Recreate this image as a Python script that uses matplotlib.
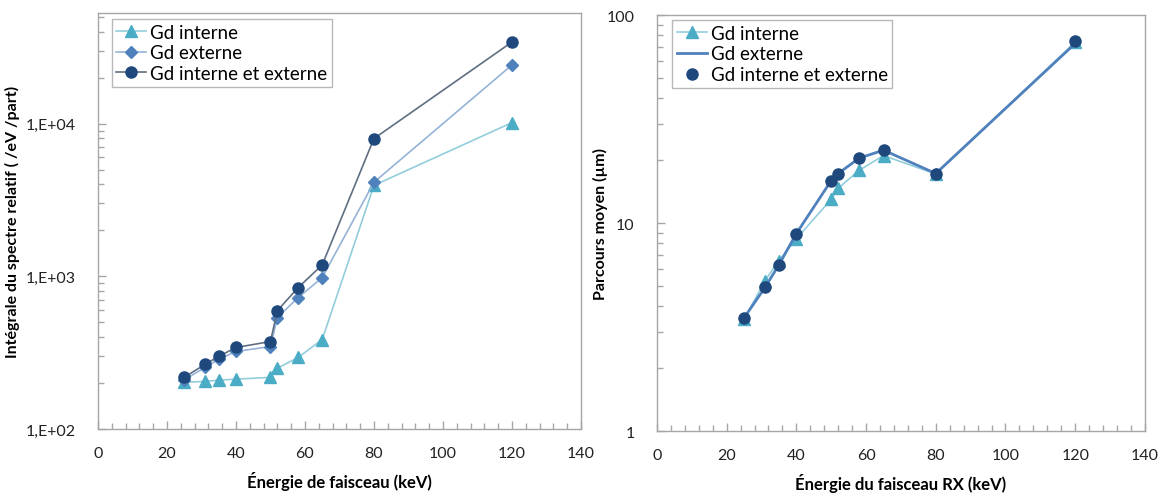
import math
import matplotlib.pyplot as plt
from matplotlib.ticker import FixedLocator, LogLocator, NullFormatter, FuncFormatter

plt.rcParams['font.family'] = ['Lato', 'DejaVu Sans']

# energies (keV)
energie = [25, 31, 35, 40, 50, 52, 58, 65, 80, 120]

# left: integrale du spectre relatif
int_interne = [202, 205, 209, 212, 218, 250, 294, 385, 3940, 10150]
int_externe = [210, 253, 286, 322, 347, 537, 725, 980, 4130, 24200]
int_both = [218, 265, 299, 342, 374, 596, 842, 1188, 7980, 34200]

# right: parcours moyen (um)
parc_interne = [3.45, 5.28, 6.6, 8.4, 13.0, 14.7, 17.9, 21.1, 17.2, 74]
parc_externe = [3.5, 4.9, 6.3, 8.9, 16.0, 17.3, 20.5, 22.4, 17.3, 73]
parc_both = [3.5, 4.9, 6.3, 8.9, 16.0, 17.3, 20.5, 22.4, 17.3, 75]

c_int = '#4BACC6'
c_ext = '#4F81BD'
c_both = '#1F497D'
grey = '#A6A6A6'

fig = plt.figure(figsize=(11.75, 5.02), dpi=100)
ax1 = fig.add_axes([0.0834, 0.1434, 0.411, 0.8287])
ax2 = fig.add_axes([0.5591, 0.1394, 0.4153, 0.8287])

def style(ax):
    for s in ax.spines.values():
        s.set_color(grey)
        s.set_linewidth(1.0)
    ax.set_xlim(0, 140)
    ax.xaxis.set_major_locator(FixedLocator(range(0, 141, 20)))
    ax.xaxis.set_minor_locator(FixedLocator(range(0, 141, 4)))
    ax.tick_params(which='both', direction='in', color=grey, labelsize=11.5,
                   labelcolor='#222222')
    ax.tick_params(which='major', length=6, width=1)
    ax.tick_params(which='minor', length=4, width=1)
    ax.tick_params(axis='x', which='major', pad=12)
    ax.tick_params(axis='y', which='major', pad=16)

# left panel
ax1.plot(energie, int_interne, color='#92CDDC', lw=1.2, marker='^', ms=8.5,
         mfc=c_int, mec=c_int, label='Gd interne')
ax1.plot(energie, int_externe, color='#95B3D7', lw=1.2, marker='D', ms=6,
         mfc=c_ext, mec=c_ext, label='Gd externe')
ax1.plot(energie, int_both, color='#5F6E82', lw=1.2, marker='o', ms=8,
         mfc=c_both, mec=c_both, label='Gd interne et externe')
ax1.set_yscale('log')
ax1.set_ylim(100, 5.3e4)
style(ax1)
ax1.yaxis.set_major_locator(FixedLocator([1e2, 1e3, 1e4]))
ax1.yaxis.set_minor_locator(LogLocator(base=10, subs=range(2, 10)))
ax1.yaxis.set_minor_formatter(NullFormatter())
ax1.yaxis.set_major_formatter(FuncFormatter(lambda v, p: '1,E+%02d' % round(math.log10(v))))
ax1.set_xlabel('Énergie de faisceau (keV)', fontsize=12, fontweight='bold', labelpad=8)
ax1.set_ylabel('Intégrale du spectre relatif ( /eV /part)', fontsize=11.5,
               fontweight='bold')
ax1.yaxis.set_label_coords(-0.162, 0.5)
leg1 = ax1.legend(loc='upper left', bbox_to_anchor=(0.028, 0.986), fontsize=13.5,
                  frameon=True, fancybox=False, handlelength=1.6,
                  handletextpad=0.2, borderpad=0.25, labelspacing=0.2,
                  borderaxespad=0)
leg1.get_frame().set_edgecolor(grey)

# right panel
ax2.plot(energie, parc_interne, color='#92CDDC', lw=1.2, marker='^', ms=8.5,
         mfc=c_int, mec=c_int, label='Gd interne')
ax2.plot(energie, parc_externe, color=c_ext, lw=2.0, label='Gd externe')
ax2.plot(energie, parc_both, ls='none', marker='o', ms=8,
         mfc=c_both, mec=c_both, label='Gd interne et externe')
ax2.set_yscale('log')
ax2.set_ylim(1, 100)
style(ax2)
ax2.yaxis.set_major_locator(FixedLocator([1, 10, 100]))
ax2.yaxis.set_minor_locator(LogLocator(base=10, subs=range(2, 10)))
ax2.yaxis.set_minor_formatter(NullFormatter())
ax2.yaxis.set_major_formatter(FuncFormatter(lambda v, p: '%d' % round(v)))
ax2.set_xlabel('Énergie du faisceau RX (keV)', fontsize=12, fontweight='bold', labelpad=8)
ax2.set_ylabel('Parcours moyen (µm)', fontsize=11.5, fontweight='bold')
ax2.yaxis.set_label_coords(-0.1, 0.5)
leg2 = ax2.legend(loc='upper left', bbox_to_anchor=(0.031, 0.988), fontsize=13.5,
                  frameon=True, fancybox=False, handlelength=1.6,
                  handletextpad=0.2, borderpad=0.25, labelspacing=0.2,
                  borderaxespad=0)
leg2.get_frame().set_edgecolor(grey)

plt.savefig('out.png', dpi=100)
